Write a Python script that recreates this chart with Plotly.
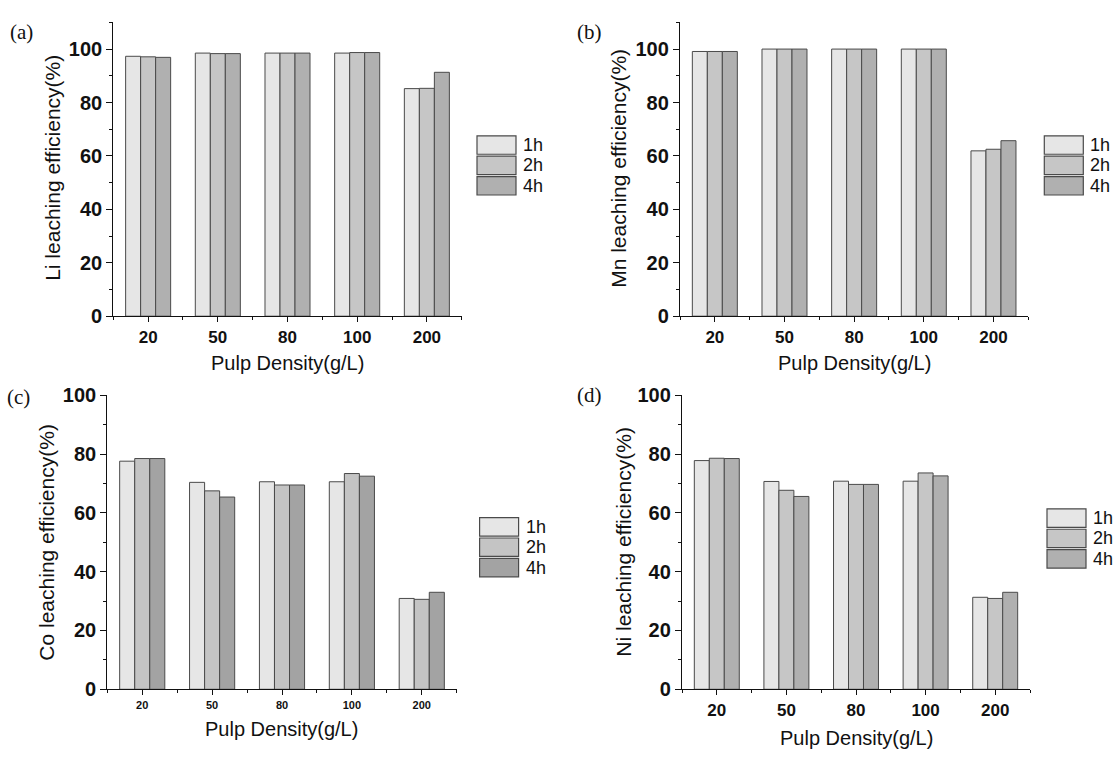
import plotly.graph_objects as go
import numpy as np

W, H = 1114, 760

# ---------------- data ----------------
categories = ["20", "50", "80", "100", "200"]
series_names = ["1h", "2h", "4h"]

li_1h = [97.3, 98.5, 98.5, 98.5, 85.2]
li_2h = [97.1, 98.3, 98.5, 98.7, 85.3]
li_4h = [96.9, 98.3, 98.5, 98.7, 91.3]

mn_1h = [99.1, 100.0, 100.0, 100.0, 61.9]
mn_2h = [99.1, 100.0, 100.0, 100.0, 62.5]
mn_4h = [99.1, 100.0, 100.0, 100.0, 65.7]

co_1h = [77.6, 70.4, 70.6, 70.6, 30.9]
co_2h = [78.5, 67.5, 69.5, 73.4, 30.6]
co_4h = [78.5, 65.4, 69.5, 72.5, 33.0]

ni_1h = [77.8, 70.7, 70.8, 70.8, 31.3]
ni_2h = [78.6, 67.7, 69.7, 73.6, 30.9]
ni_4h = [78.5, 65.6, 69.7, 72.6, 33.0]

y_titles = ["Li leaching efficiency(%)", "Mn leaching efficiency(%)",
            "Co leaching efficiency(%)", "Ni leaching efficiency(%)"]
x_title = "Pulp Density(g/L)"
panel_labels = ["(a)", "(b)", "(c)", "(d)"]

# ---------------- styling / layout ----------------
FONT = "Arial, Liberation Sans, sans-serif"
SERIF = "Times New Roman, Liberation Serif, serif"
INK = "#111111"
EDGE = "#4a4a4a"


def px(x):
    return x / W


def py(y):
    return 1 - y / H


panels = [
    dict(data=[li_1h, li_2h, li_4h], x=(113.3, 461.7), y=(11.7, 314.3), yr=110,
         colors=["#e6e6e6", "#c6c6c6", "#b0b0b0"], xtick=17,
         ytitle=(52.5, 162), xtitle=362, label=(21, 22),
         legend=(477, 128.5)),
    dict(data=[mn_1h, mn_2h, mn_4h], x=(680.0, 1028.3), y=(11.7, 314.3), yr=110,
         colors=["#e6e6e6", "#c6c6c6", "#b0b0b0"], xtick=17,
         ytitle=(618.5, 162), xtitle=363, label=(589, 22),
         legend=(1044.3, 128.5)),
    dict(data=[co_1h, co_2h, co_4h], x=(107.3, 456.7), y=(395.8, 698.5), yr=100,
         colors=["#e6e6e6", "#c4c4c4", "#a3a3a3"], xtick=11,
         ytitle=(46.5, 547), xtitle=739, label=(18, 397),
         legend=(479.6, 521.7)),
    dict(data=[ni_1h, ni_2h, ni_4h], x=(682.0, 1030.0), y=(395.8, 698.5), yr=100,
         colors=["#e6e6e6", "#c6c6c6", "#b0b0b0"], xtick=17,
         ytitle=(623.5, 547), xtitle=749, label=(589, 395),
         legend=(1047, 512.7)),
]

x_pos = np.arange(len(categories))

fig = go.Figure()
shapes = []
annotations = []

for i, p in enumerate(panels):
    n = "" if i == 0 else str(i + 1)
    xa, ya = "x" + n, "y" + n
    for s, name in enumerate(series_names):
        fig.add_trace(go.Bar(
            x=x_pos, y=p["data"][s], name=name, xaxis=xa, yaxis=ya,
            marker=dict(color=p["colors"][s], line=dict(color=EDGE, width=1)),
            showlegend=False, hovertemplate="%{y}<extra>" + name + "</extra>",
        ))

    fig.layout["xaxis" + n] = dict(
        domain=[px(p["x"][0]), px(p["x"][1])], anchor=ya,
        range=[-0.5, len(categories) - 0.5],
        tickmode="array", tickvals=x_pos, ticktext=categories,
        ticks="outside", ticklen=5, tickwidth=1.2, tickcolor=INK,
        showline=True, linecolor=INK, linewidth=1.3,
        showgrid=False, zeroline=False,
        tickfont=dict(family=FONT, size=p["xtick"], color=INK, weight="bold"),
        minor=dict(tickmode="linear", tick0=0.5, dtick=1, ticks="outside",
                   ticklen=3, tickwidth=1.2, tickcolor=INK, showgrid=False),
    )
    fig.layout["yaxis" + n] = dict(
        domain=[py(p["y"][1]), py(p["y"][0])], anchor=xa,
        range=[0, p["yr"]],
        tickmode="array", tickvals=list(range(0, 101, 20)),
        ticks="outside", ticklen=6, tickwidth=1.2, tickcolor=INK,
        showline=True, linecolor=INK, linewidth=1.3,
        showgrid=False, zeroline=False,
        tickfont=dict(family=FONT, size=20, color=INK, weight="bold"),
        minor=dict(tickmode="linear", tick0=0, dtick=10, ticks="outside",
                   ticklen=3, tickwidth=1.2, tickcolor=INK, showgrid=False),
    )

    # axis titles
    annotations.append(dict(
        text=y_titles[i], x=px(p["ytitle"][0]), y=py(p["ytitle"][1]),
        xref="paper", yref="paper", showarrow=False, textangle=-90,
        xanchor="center", yanchor="middle",
        font=dict(family=FONT, size=21, color=INK)))
    annotations.append(dict(
        text=x_title, x=px((p["x"][0] + p["x"][1]) / 2), y=py(p["xtitle"]),
        xref="paper", yref="paper", showarrow=False,
        xanchor="center", yanchor="middle",
        font=dict(family=FONT, size=20, color=INK)))
    annotations.append(dict(
        text=panel_labels[i], x=px(p["label"][0]), y=py(p["label"][1]),
        xref="paper", yref="paper", showarrow=False,
        xanchor="center", yanchor="middle",
        font=dict(family=SERIF, size=21, color=INK)))

    # legend keys
    lx, ly = p["legend"]
    bw, bh, pitch = 39, 19, 21
    for s, name in enumerate(series_names):
        top = ly + s * pitch
        shapes.append(dict(
            type="rect", xref="paper", yref="paper",
            x0=px(lx), x1=px(lx + bw), y0=py(top + bh), y1=py(top),
            fillcolor=p["colors"][s], line=dict(color=EDGE, width=1.2)))
        annotations.append(dict(
            text=name, x=px(lx + bw + 5), y=py(top + bh / 2),
            xref="paper", yref="paper", showarrow=False,
            xanchor="left", yanchor="middle",
            font=dict(family=FONT, size=18, color=INK)))

fig.update_layout(
    width=W, height=H, autosize=False,
    margin=dict(l=0, r=0, t=0, b=0),
    paper_bgcolor="white", plot_bgcolor="white",
    barmode="group", bargap=0.354, bargroupgap=0,
    shapes=shapes, annotations=annotations,
    font=dict(family=FONT, color=INK),
)

fig.write_html("out.html", config={"displayModeBar": False},
               post_script="document.body.style.margin='0';")
